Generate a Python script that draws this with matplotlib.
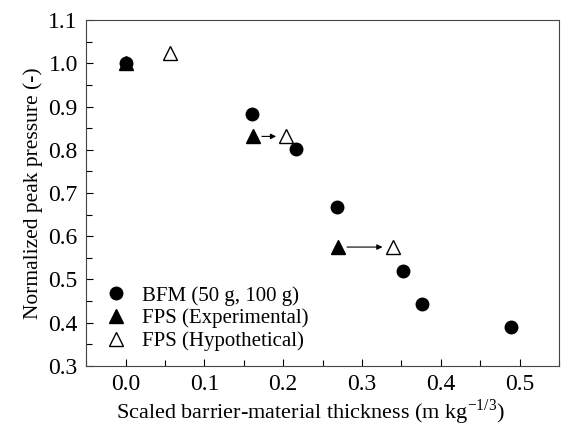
import matplotlib
matplotlib.use("Agg")
import matplotlib.pyplot as plt
from matplotlib.ticker import MultipleLocator, FormatStrFormatter

plt.rcParams['font.family'] = ['Liberation Serif', 'DejaVu Serif']
plt.rcParams['mathtext.fontset'] = 'custom'
plt.rcParams['mathtext.rm'] = 'Liberation Serif'

# BFM data
bfm_x = [0.0, 0.161, 0.216, 0.268, 0.352, 0.376, 0.489]
bfm_y = [1.0, 0.882, 0.801, 0.667, 0.52, 0.443, 0.39]

# FPS experimental
exp_x = [0.0, 0.162, 0.270]
exp_y = [1.0, 0.831, 0.575]

# FPS hypothetical
hyp_x = [0.056, 0.204, 0.339]
hyp_y = [1.025, 0.831, 0.575]

fig = plt.figure(figsize=(5.63, 4.28), dpi=100)
ax = fig.add_axes([0.153, 0.145, 0.84, 0.808])

ax.plot(bfm_x, bfm_y, 'o', color='black', ms=9, ls='none', label='BFM (50 g, 100 g)')
ax.plot(exp_x, exp_y, '^', color='black', ms=10, ls='none', label='FPS (Experimental)')
ax.plot(hyp_x, hyp_y, '^', mfc='white', mec='black', mew=1.0, ms=10, ls='none',
        label='FPS (Hypothetical)')

# arrows from experimental to hypothetical
for i in range(1, len(exp_x)):
    ax.annotate('', xy=(hyp_x[i] - 0.013, hyp_y[i]), xytext=(exp_x[i] + 0.011, exp_y[i]),
                arrowprops=dict(arrowstyle='-|>', color='black', lw=0.8,
                                mutation_scale=8, shrinkA=0, shrinkB=0))

ax.xaxis.set_major_locator(MultipleLocator(0.1))
ax.xaxis.set_minor_locator(MultipleLocator(0.05))
ax.yaxis.set_major_locator(MultipleLocator(0.1))
ax.yaxis.set_minor_locator(MultipleLocator(0.05))
ax.set_xlim(-0.05, 0.55)
ax.set_ylim(0.3, 1.1)
ax.tick_params(which='both', direction='in', labelsize=17, length=5, width=0.8, pad=6)
ax.tick_params(which='minor', length=4)
ax.xaxis.set_major_formatter(FormatStrFormatter('%.1f'))
ax.yaxis.set_major_formatter(FormatStrFormatter('%.1f'))

for s in ax.spines.values():
    s.set_linewidth(0.8)
    s.set_color('#444444')

ax.set_xlabel(r'Scaled barrier-material thickness (m kg$^{\mathregular{-1/3}}$)',
              fontsize=16)
ax.xaxis.set_label_coords(0.474, -0.09)
ax.set_ylabel('Normalized peak pressure (-)', fontsize=15.5, labelpad=4)

ax.legend(loc='lower left', frameon=False, fontsize=15, handletextpad=0.5,
          borderaxespad=0.3, labelspacing=0.15, handlelength=1.5,
          bbox_to_anchor=(0.0, 0.0))

fig.savefig('out.png', dpi=100)
